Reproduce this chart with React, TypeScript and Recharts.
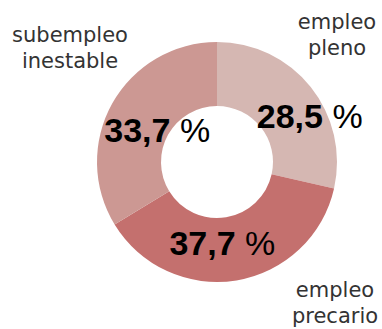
import { Pie, PieChart, Cell } from "recharts";

const categories = ["empleo pleno", "empleo precario", "subempleo inestable"];
const shares = [28.5, 37.7, 33.7];
const valueLabels = ["28,5", "37,7", "33,7"];
const colors = ["#d5b7b2", "#c4706e", "#cc9893"];

const data = categories.map((name, i) => ({ name, value: shares[i] }));

// nudges for the value text (from the ring's mid-radius) and for the category names
const valueNudge = [
  [24, 21],
  [-9, 6],
  [17, 23],
];
const nameSpot = [
  [337, 29],
  [335, 297],
  [70, 42],
];

const RAD = Math.PI / 180;

const renderLabel = (props: any) => {
  const { cx, cy, midAngle, innerRadius, outerRadius, index } = props;
  const r = (innerRadius + outerRadius) / 2;
  const x = cx + r * Math.cos(-midAngle * RAD) + valueNudge[index][0];
  const y = cy + r * Math.sin(-midAngle * RAD) + valueNudge[index][1];
  const words = categories[index].split(" ");
  return (
    <g>
      <text
        x={x}
        y={y}
        textAnchor="middle"
        fill="#000"
        fontFamily="'Liberation Sans', Arial, sans-serif"
        fontWeight={700}
        fontSize={34}
      >
        {valueLabels[index]}
        <tspan fontWeight={400}> %</tspan>
      </text>
      <text
        x={nameSpot[index][0]}
        y={nameSpot[index][1]}
        textAnchor="middle"
        fill="#333"
        fontFamily="'DejaVu Sans', sans-serif"
        fontSize={21}
      >
        {words.map((w, i) => (
          <tspan key={i} x={nameSpot[index][0]} dy={i === 0 ? 0 : 26}>
            {w}
          </tspan>
        ))}
      </text>
    </g>
  );
};

export default function App() {
  return (
    <div style={{ position: "absolute", left: 0, top: 0, width: 382, height: 329, background: "#fff" }}>
      <PieChart width={382} height={329} margin={{ top: 0, right: 0, bottom: 0, left: 0 }}>
        <Pie
          data={data}
          dataKey="value"
          nameKey="name"
          cx={217}
          cy={162}
          innerRadius={56}
          outerRadius={120}
          startAngle={90}
          endAngle={-270}
          stroke="none"
          labelLine={false}
          label={renderLabel}
          isAnimationActive={false}
        >
          {data.map((d, i) => (
            <Cell key={d.name} fill={colors[i]} />
          ))}
        </Pie>
      </PieChart>
    </div>
  );
}
